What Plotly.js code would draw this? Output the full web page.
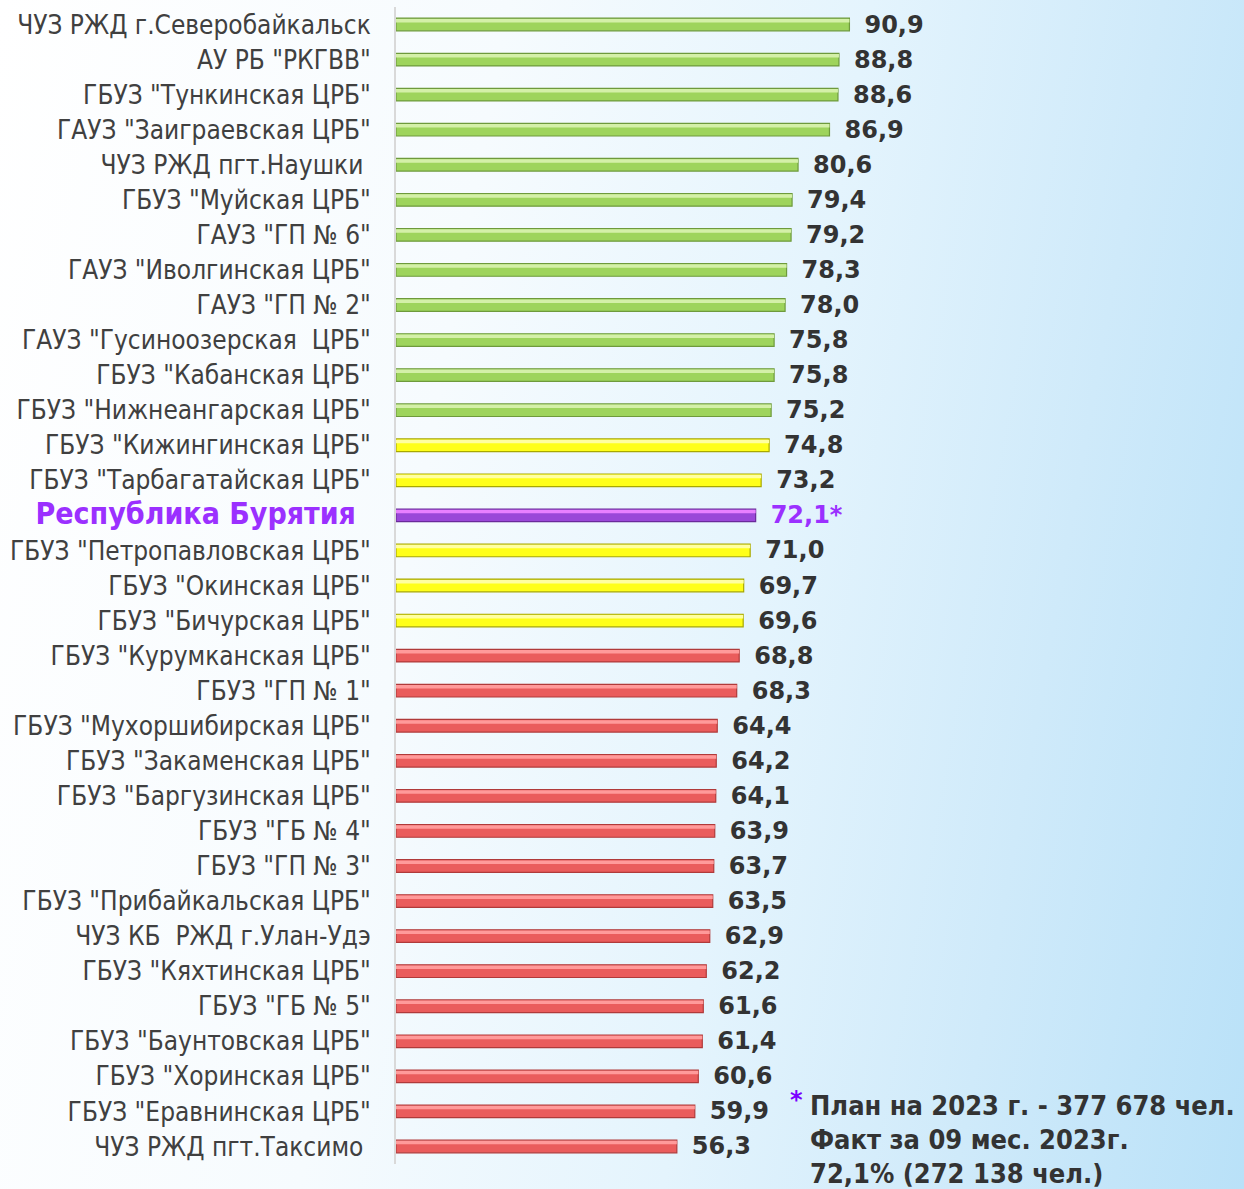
<!DOCTYPE html>
<html><head><meta charset="utf-8">
<script src="https://cdn.plot.ly/plotly-3.0.1.min.js"></script>
<style>
html,body{margin:0;padding:0;width:1244px;height:1189px;overflow:hidden;}
body{background:linear-gradient(100deg,#ffffff 0%,#f6fbfe 35%,#e4f4fd 60%,#cfeafa 80%,#b9e1f8 100%);}
#chart{width:1244px;height:1189px;}
</style></head>
<body><div id="chart"></div>
<script>
const categories = [
 'ЧУЗ РЖД г.Северобайкальск','АУ РБ "РКГВВ"','ГБУЗ "Тункинская ЦРБ"','ГАУЗ "Заиграевская ЦРБ"',
 'ЧУЗ РЖД пгт.Наушки\u00a0','ГБУЗ "Муйская ЦРБ"','ГАУЗ "ГП № 6"','ГАУЗ "Иволгинская ЦРБ"','ГАУЗ "ГП № 2"',
 'ГАУЗ "Гусиноозерская \u00a0ЦРБ"','ГБУЗ "Кабанская ЦРБ"','ГБУЗ "Нижнеангарская ЦРБ"','ГБУЗ "Кижингинская ЦРБ"',
 'ГБУЗ "Тарбагатайская ЦРБ"','Республика Бурятия','ГБУЗ "Петропавловская ЦРБ"','ГБУЗ "Окинская ЦРБ"',
 'ГБУЗ "Бичурская ЦРБ"','ГБУЗ "Курумканская ЦРБ"','ГБУЗ "ГП № 1"','ГБУЗ "Мухоршибирская ЦРБ"',
 'ГБУЗ "Закаменская ЦРБ"','ГБУЗ "Баргузинская ЦРБ"','ГБУЗ "ГБ № 4"','ГБУЗ "ГП № 3"','ГБУЗ "Прибайкальская ЦРБ"',
 'ЧУЗ КБ \u00a0РЖД г.Улан-Удэ','ГБУЗ "Кяхтинская ЦРБ"','ГБУЗ "ГБ № 5"','ГБУЗ "Баунтовская ЦРБ"','ГБУЗ "Хоринская ЦРБ"',
 'ГБУЗ "Еравнинская ЦРБ"','ЧУЗ РЖД пгт.Таксимо\u00a0'
];
const values = [90.9,88.8,88.6,86.9,80.6,79.4,79.2,78.3,78.0,75.8,75.8,75.2,74.8,73.2,72.1,71.0,69.7,69.6,68.8,68.3,64.4,64.2,64.1,63.9,63.7,63.5,62.9,62.2,61.6,61.4,60.6,59.9,56.3];
const groups = ['g','g','g','g','g','g','g','g','g','g','g','g','y','y','p','y','y','y','r','r','r','r','r','r','r','r','r','r','r','r','r','r','r'];
const totalLabel = 'Республика Бурятия';
const footnoteLines = ['План на 2023 г. - 377 678 чел.','Факт за 09 мес. 2023г.','72,1% (272 138 чел.)'];

const fill = {g:'#9ed45c', y:'#ffff1a', p:'#9a48d8', r:'#ea5c5c'};
const edge = {g:'#6e9a3c', y:'#a8a800', p:'#6a2a9a', r:'#b03a3a'};
const hi   = {g:'#d4f0a8', y:'#ffffa0', p:'#e880ff', r:'#ff9a9a'};

const tickText = categories.map(c => c === totalLabel
  ? '<b><span style="color:#9b30ff;font-size:30px">' + c + '</span></b>\u00a0\u00a0'
  : c);
const labels = values.map((v,i) => '\u2002' + v.toFixed(1).replace('.', ',') + (categories[i] === totalLabel ? '*' : ''));

const base = {
  type:'bar', orientation:'h', y:categories, x:values, width:0.36,
  marker:{color:groups.map(g=>fill[g]), line:{color:groups.map(g=>edge[g]), width:1.2}},
  text:labels, textposition:'outside', cliponaxis:false, constraintext:'none',
  textfont:{family:'"DejaVu Sans", sans-serif', size:24, color:categories.map(c=>c===totalLabel?'#9b30ff':'#333333'), weight:'bold'},
  hoverinfo:'x+y'
};
const highlight = {
  type:'bar', orientation:'h', y:categories, x:values, width:0.1, offset:-0.16,
  marker:{color:groups.map(g=>hi[g]), line:{width:0}}, hoverinfo:'skip'
};

const layout = {
  width:1244, height:1189,
  margin:{l:396, r:0, t:7, b:25},
  paper_bgcolor:'rgba(0,0,0,0)', plot_bgcolor:'rgba(0,0,0,0)',
  showlegend:false, barmode:'overlay', separators:', ',
  font:{family:'"DejaVu Sans Condensed", "Liberation Sans Narrow", "Roboto", sans-serif', color:'#404040'},
  xaxis:{range:[0,170], visible:false, showgrid:false, zeroline:false},
  yaxis:{type:'category', range:[32.5,-0.5], showline:true, linecolor:'#d9d9d9', linewidth:2,
         tickmode:'array', tickvals:categories, ticktext:tickText, ticks:'', ticklen:0,
         tickfont:{size:26, color:'#404040'}, ticklabelstandoff:18, showgrid:false, zeroline:false},
  annotations:[
    {xref:'paper', yref:'paper', x:(788-396)/848, y:(1189-25-1100)/1157, xanchor:'left', yanchor:'middle', showarrow:false,
     text:'<b><span style="color:#7a00ff">*</span></b>', font:{size:24, family:'"DejaVu Sans", sans-serif'}},
    ...footnoteLines.map((t,i)=>({xref:'paper', yref:'paper', x:(808-396)/848, y:(1189-25-(1105+34*i))/1157,
      xanchor:'left', yanchor:'middle', showarrow:false, text:'<b>'+t+'</b>',
      font:{size:27, color:'#333333', family:'"DejaVu Sans Condensed", "DejaVu Sans", sans-serif'}}))
  ]
};
Plotly.newPlot('chart', [base, highlight], layout, {displayModeBar:false, staticPlot:true});
</script></body></html>
